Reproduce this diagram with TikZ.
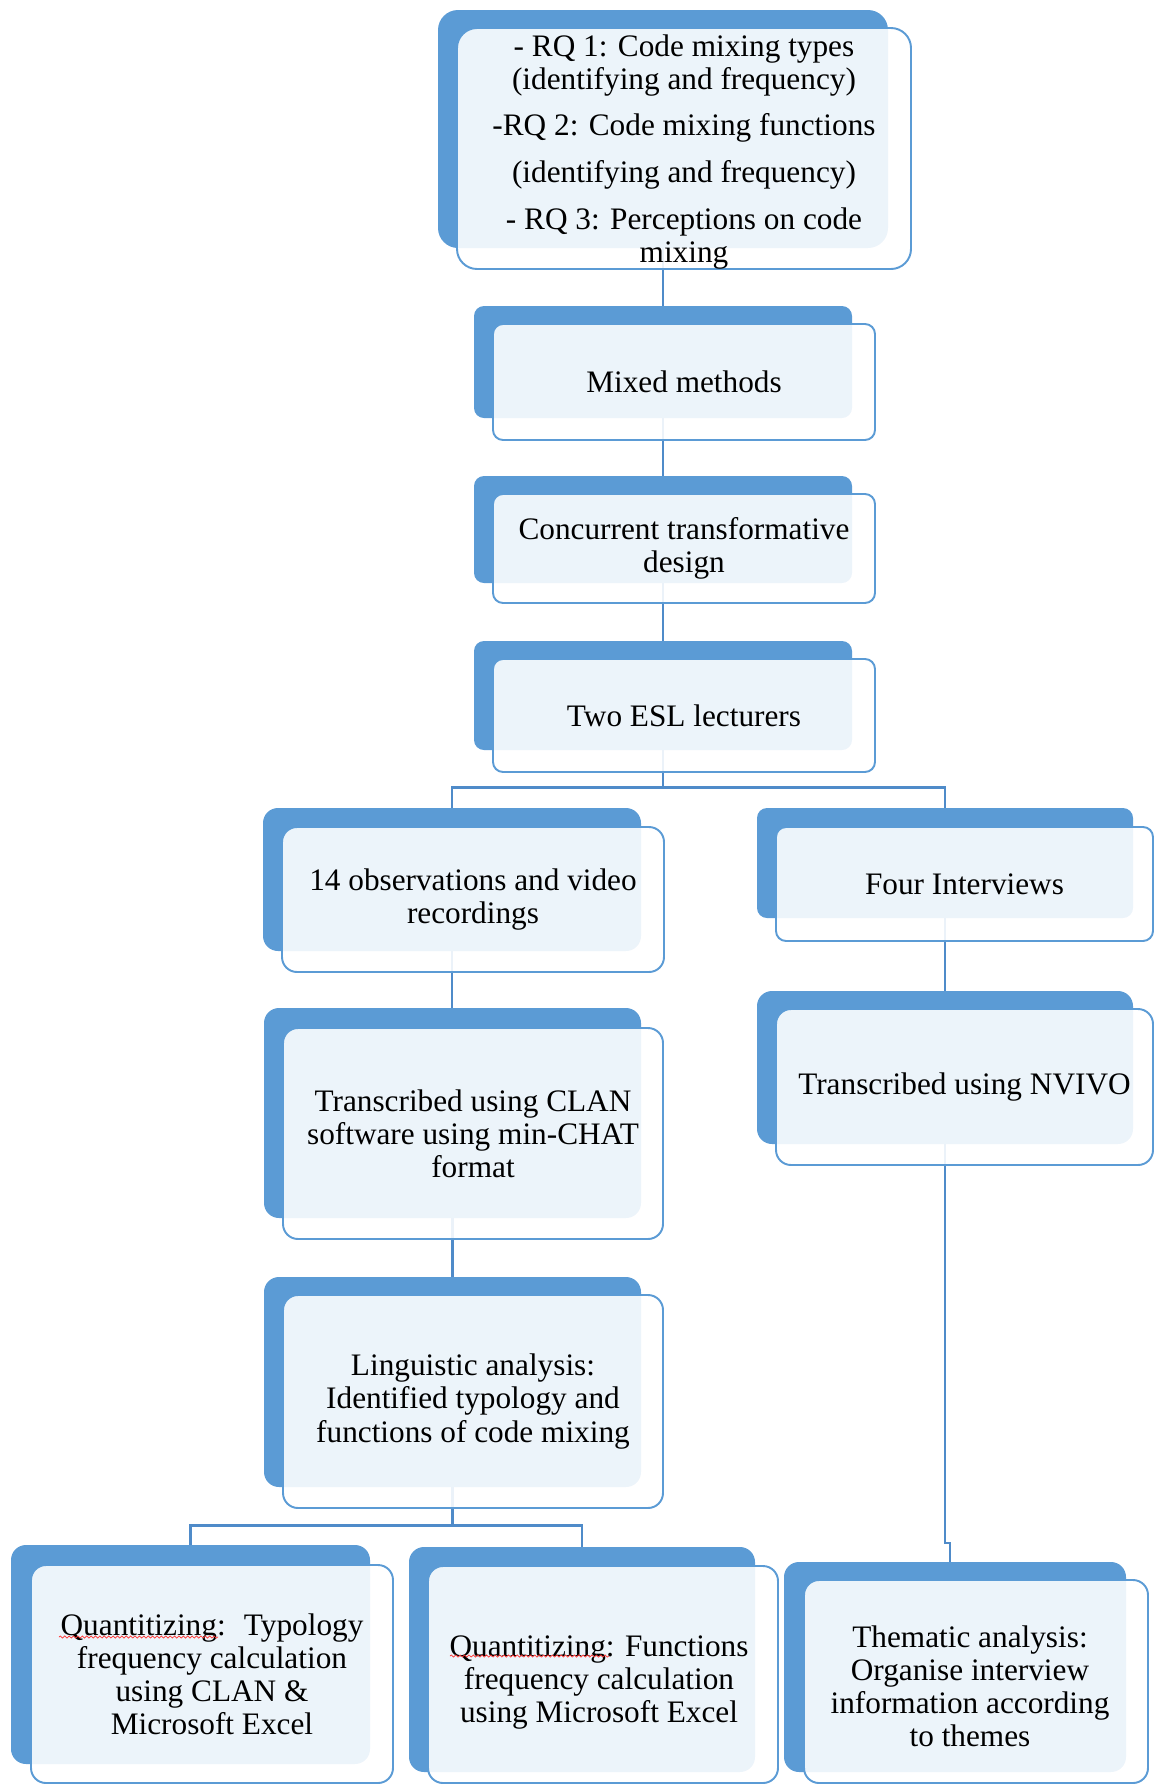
\documentclass[tikz,border=0pt]{standalone}
\usepackage{fontspec}
\setmainfont{Liberation Serif}
\usetikzlibrary{fit,backgrounds,decorations.pathmorphing}
\definecolor{smartblue}{RGB}{91,155,213}
\definecolor{linkblue}{RGB}{79,139,201}
\begin{document}
\begin{tikzpicture}[x=0.02cm, y=-0.02cm,
		back/.style={fill=smartblue, rounded corners=0.3cm, inner sep=0pt},
		front/.style={draw=smartblue, line width=1.1pt, fill=white, fill opacity=0.89,
			rounded corners=0.3cm, inner sep=0pt},
		txt/.style={inner sep=0pt, align=center, font=\fontsize{17.8}{18.8}\selectfont},
		link/.style={draw=linkblue, line width=1.3pt},
		squiggle/.style={draw=red!80, line width=0.4pt, decorate, decoration={snake, amplitude=0.6pt, segment length=2.5pt}}]
	\useasboundingbox (0,0) rectangle (1155,1785);
	\clip (0,0) rectangle (1155,1785);
	
	% main column
	\node[back, rounded corners=0.4cm, fit={(438,10) (888,248)}] (rqB) {};
	\node[front, rounded corners=0.4cm, fit={(457,28) (911,269)}] (rqF) {};
	\node[txt] (rq) at ([yshift=-0.07cm]rqF.center) {- RQ 1: Code mixing types\\ (identifying and frequency)\\[0.26cm] -RQ 2: Code mixing functions\\[0.28cm] (identifying and frequency)\\[0.26cm] - RQ 3: Perceptions on code\\ mixing};
	\node[back, rounded corners=0.2cm, fit={(474,306) (852,418)}] (mixB) {};
	\node[front, rounded corners=0.2cm, fit={(493,324) (875,440)}] (mixF) {};
	\node[txt] (mix) at (mixF) {Mixed methods};
	\node[back, rounded corners=0.2cm, fit={(474,476) (852,583)}] (conB) {};
	\node[front, rounded corners=0.2cm, fit={(493,494) (875,603)}] (conF) {};
	\node[txt] (con) at (conF) {Concurrent transformative\\ design};
	\node[back, rounded corners=0.2cm, fit={(474,641) (852,750)}] (eslB) {};
	\node[front, rounded corners=0.2cm, fit={(493,659) (875,772)}] (eslF) {};
	\node[txt] (esl) at (eslF) {Two ESL lecturers};
	
	% observation branch
	\node[back, fit={(263,808) (641,951)}] (obsB) {};
	\node[front, fit={(282,827) (664,972)}] (obsF) {};
	\node[txt] (obs) at (obsF) {14 observations and video\\ recordings};
	\node[back, fit={(264,1008) (641,1218)}] (clanB) {};
	\node[front, fit={(283,1028) (663,1239)}] (clanF) {};
	\node[txt] (clan) at (clanF) {Transcribed using CLAN\\ software using min-CHAT\\ format};
	\node[back, fit={(264,1277) (641,1487)}] (lingB) {};
	\node[front, fit={(283,1295) (663,1508)}] (lingF) {};
	\node[txt] (ling) at (lingF) {Linguistic analysis:\\ Identified typology and\\ functions of code mixing};
	\node[back, fit={(11,1545) (370,1764)}] (qtB) {};
	\node[front, fit={(31,1565) (393,1783)}] (qtF) {};
	\node[txt] (qt) at (qtF) {Quantitizing:~ Typology\\ frequency calculation\\ using CLAN \&\\ Microsoft Excel};
	\node[back, fit={(409,1547) (755,1772)}] (qfB) {};
	\node[front, fit={(428,1566) (778,1783)}] (qfF) {};
	\node[txt] (qf) at ([xshift=-0.08cm, yshift=-0.16cm]qfF.center) {Quantitizing: Functions\\ frequency calculation\\ using Microsoft Excel};
	
	% interview branch
	\node[back, rounded corners=0.2cm, fit={(757,808) (1133,918)}] (intB) {};
	\node[front, rounded corners=0.2cm, fit={(776,827) (1153,941)}] (intF) {};
	\node[txt] (int) at (intF) {Four Interviews};
	\node[back, fit={(757,991) (1133,1144)}] (nvB) {};
	\node[front, fit={(776,1009) (1153,1165)}] (nvF) {};
	\node[txt] (nv) at (nvF) {Transcribed using NVIVO};
	\node[back, fit={(784,1562) (1126,1772)}] (thB) {};
	\node[front, fit={(804,1580) (1148,1783)}] (thF) {};
	\node[txt] (th) at ([xshift=-0.12cm, yshift=-0.09cm]thF.center) {Thematic analysis:\\ Organise interview\\ information according\\ to themes};
	\coordinate (jog) at (950,1543);
	
	\begin{scope}[on background layer]
		\draw[link] (rqB.south) -- (rqB.south |- mixB.north);
		\draw[link] (mixB.south) -- (mixB.south |- conB.north);
		\draw[link] (conB.south) -- (conB.south |- eslB.north);
		\draw[link] (eslB.south) -- ++(0,37) -| (obsB.north);
		\draw[link] (eslB.south) -- ++(0,37) -| (intB.north);
		\draw[link] (obsB.south) -- (obsB.south |- clanB.north);
		\draw[link] (clanB.south) -- (clanB.south |- lingB.north);
		\draw[link] (lingB.south) -- ++(0,38) -| (qtB.north);
		\draw[link] (lingB.south) -- ++(0,38) -| (qfB.north);
		\draw[link] (intB.south) -- (intB.south |- nvB.north);
		\draw[link] (nvB.south) |- (jog) -- (jog |- thB.north);
	\end{scope}
	
	% spell check marks
	\draw[squiggle] (59,1637) -- (218,1637);
	\draw[squiggle] (450,1656) -- (609,1656);
\end{tikzpicture}
\end{document}
